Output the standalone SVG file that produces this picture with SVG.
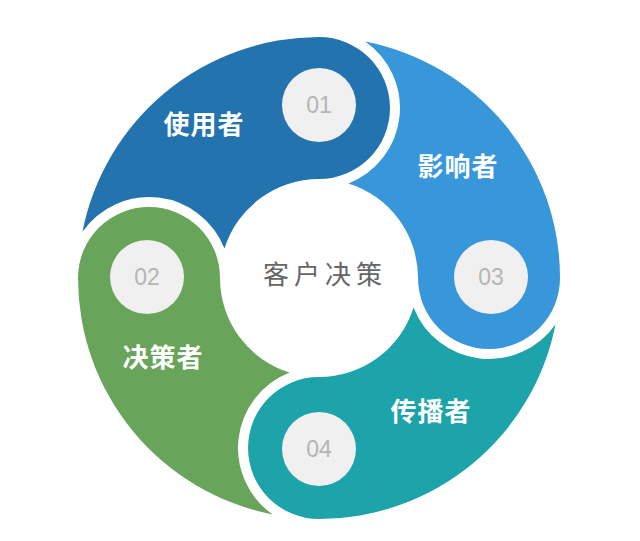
<svg xmlns="http://www.w3.org/2000/svg" width="640" height="541" viewBox="0 0 640 541">
<style>
.num{fill:#f0f0f0}
.nt{font-family:"Liberation Sans",Arial,sans-serif;font-size:23px;fill:#b5b5b5;text-anchor:middle}
.lbl{font-family:"Noto Sans CJK SC","Noto Sans",sans-serif;font-size:26px;font-weight:bold;fill:#ffffff;text-anchor:middle;letter-spacing:1px}
.ctr{font-family:"Noto Sans CJK SC","Noto Sans",sans-serif;font-size:26px;fill:#666666;text-anchor:middle;letter-spacing:5px}
</style>
<rect width="640" height="541" fill="#ffffff"/>
<g id="connectors"></g>
<g id="node-1">
<path d="M82.47,231.81 A241,241 0 0 1 319,37 A71,71 0 0 1 319,179 A99,99 0 0 0 224.46,248.61 A81,81 0 0 0 82.47,231.81 Z" fill="#2373ae"/>
<circle class="num" cx="319" cy="105" r="37"/>
<text class="nt" x="319" y="113">01</text>
<text class="lbl" x="204" y="134">使用者</text>
</g>
<g id="node-3">
<path d="M365.19,41.47 A241,241 0 0 1 560,278 A71,71 0 0 1 418,278 A99,99 0 0 0 348.39,183.46 A81,81 0 0 0 365.19,41.47 Z" fill="#3896da"/>
<circle class="num" cx="491" cy="277" r="37"/>
<text class="nt" x="491" y="285">03</text>
<text class="lbl" x="458" y="176">影响者</text>
</g>
<g id="node-4">
<path d="M555.53,324.19 A241,241 0 0 1 319,519 A71,71 0 0 1 319,377 A99,99 0 0 0 413.54,307.39 A81,81 0 0 0 555.53,324.19 Z" fill="#1da3aa"/>
<circle class="num" cx="319" cy="449" r="37"/>
<text class="nt" x="319" y="457">04</text>
<text class="lbl" x="431" y="421">传播者</text>
</g>
<g id="node-2">
<path d="M272.81,514.53 A241,241 0 0 1 78,278 A71,71 0 0 1 220,278 A99,99 0 0 0 289.61,372.54 A81,81 0 0 0 272.81,514.53 Z" fill="#68a45a"/>
<circle class="num" cx="147" cy="277" r="37"/>
<text class="nt" x="147" y="285">02</text>
<text class="lbl" x="163" y="367">决策者</text>
</g>
<g id="center">
<text class="ctr" x="325" y="284">客户决策</text>
</g>
</svg>
